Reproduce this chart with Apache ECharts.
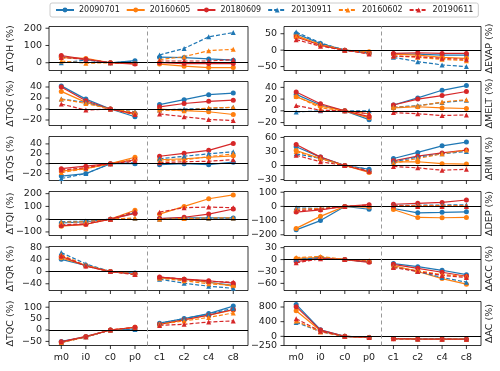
<!DOCTYPE html>
<html>
<head>
<meta charset="utf-8">
<script src="https://cdn.jsdelivr.net/npm/echarts@6/dist/echarts.min.js"></script>
<style>
html, body { margin: 0; padding: 0; background: #fff; }
#chart { width: 500px; height: 371px; }
</style>
</head>
<body>
<div id="chart"></div>
<script>
// x positions / labels
var categories = ['m0', 'i0', 'c0', 'p0', 'c1', 'c2', 'c4', 'c8'];
// run order: 20090701, 20160605, 20180609, 20130911, 20160602, 20190611
var runs = ['20090701', '20160605', '20180609', '20130911', '20160602', '20190611'];

var dTQH = [
    [35, 20, 0, 12, 32, 30, 22, 15],
    [30, 25, 0, -5, -8, -20, -28, -28],
    [42, 20, 0, -8, 0, -5, -5, -5],
    [0, 15, 0, 8, 45, 83, 150, 175],
    [10, -3, 0, -3, 18, 35, 70, 78],
    [30, 20, 0, -5, 10, 10, 10, 18]
];
var dEVAP = [
    [50, 20, 0, -8, -12, -12, -15, -15],
    [45, 15, 0, -5, -12, -15, -22, -25],
    [40, 15, 0, -10, -10, -8, -10, -10],
    [55, 22, 0, -8, -22, -35, -45, -50],
    [42, 18, 0, -8, -18, -22, -28, -32],
    [32, 12, 0, -12, -18, -20, -25, -28]
];
var dTQG = [
    [42, 18, 0, -14, 8, 17, 26, 29],
    [32, 12, 0, -10, 0, -3, -5, -10],
    [40, 15, 0, -8, 4, 10, 14, 16],
    [18, 12, 0, -5, -2, 0, 1, 3],
    [18, 10, 0, -6, -2, -3, 2, 3],
    [9, -2, 0, -10, -9, -14, -19, -21]
];
var dMELT = [
    [28, 10, 0, -15, 10, 22, 35, 43],
    [24, 8, 0, -12, 5, 7, 5, 4],
    [32, 12, 0, -10, 10, 20, 26, 33],
    [-2, 0, 0, 0, 6, 9, 14, 18],
    [25, 5, 0, -5, 6, 8, 15, 19],
    [9, 1, 0, -5, -3, -5, -8, -7]
];
var dTQS = [
    [-25, -20, 0, 0, -2, 0, -2, 3],
    [-15, -10, 0, 13, 8, 10, 13, 16],
    [-10, -5, 0, 8, 15, 21, 27, 41],
    [-30, -20, 0, 2, 10, 15, 20, 24],
    [-18, -10, 0, 10, 5, 8, 14, 20],
    [-13, -8, 0, 5, 2, 4, 5, 8]
];
var dRIM = [
    [40, 18, 0, -8, 15, 28, 42, 50],
    [32, 15, 0, -15, 8, 8, 4, 3],
    [45, 18, 0, -13, 10, 20, 27, 33],
    [25, 15, 0, -8, 8, 18, 25, 30],
    [30, 15, 0, -12, 5, 15, 25, 33],
    [22, 8, 0, -12, -2, -5, -10, -8]
];
var dTQI = [
    [-30, -20, 0, 50, 5, 10, 10, 10],
    [-55, -40, 0, 70, 40, 100, 160, 190],
    [-50, -40, 0, 45, 5, 15, 40, 80],
    [-20, -15, 0, 5, 0, 5, 5, 5],
    [-25, -20, 0, 10, 0, 5, 10, 10],
    [-45, -35, 0, 60, 55, 90, 95, 90]
];
var dDEP = [
    [-165, -100, 0, -20, -15, -45, -42, -38],
    [-155, -70, 0, -5, -22, -78, -80, -78],
    [-40, -25, 0, 12, 15, 22, 28, 45],
    [-10, -15, 0, 5, 8, 8, 10, 12],
    [-20, -15, 0, 5, 5, 5, 5, 5],
    [-30, -20, 0, 10, 5, 0, 0, 0]
];
var dTQR = [
    [40, 20, 0, -5, -20, -25, -35, -45],
    [45, 20, 0, -8, -20, -25, -35, -48],
    [50, 18, 0, -8, -18, -25, -30, -38],
    [62, 25, 0, -8, -25, -38, -48, -55],
    [55, 20, 0, -8, -22, -30, -40, -45],
    [52, 18, 0, -10, -18, -25, -32, -35]
];
var dACC = [
    [0, 5, 0, -5, -10, -18, -27, -38],
    [3, 5, 0, -5, -15, -30, -48, -62],
    [-5, 3, 0, -7, -12, -22, -32, -42],
    [0, 5, 0, -5, -18, -30, -45, -57],
    [5, 8, 0, -3, -18, -28, -38, -42],
    [-8, 2, 0, -5, -20, -30, -40, -45]
];
var dTQC = [
    [-50, -30, 0, 5, 30, 50, 72, 105],
    [-55, -30, 0, 12, 25, 45, 65, 88],
    [-52, -28, 0, 12, 25, 45, 65, 90],
    [-55, -30, 0, 2, 30, 50, 70, 95],
    [-55, -30, 0, 10, 25, 40, 55, 75],
    [-52, -30, 0, 12, 20, 25, 35, 40]
];
var dAC = [
    [870, 180, 0, -30, -60, -70, -75, -80],
    [700, 150, 0, -30, -65, -75, -80, -80],
    [810, 170, 0, -30, -60, -70, -75, -78],
    [380, 130, 0, -20, -60, -70, -72, -75],
    [420, 120, 0, -25, -62, -72, -75, -78],
    [480, 140, 0, -30, -65, -75, -78, -80]
];

// y tick labels per panel
var ticksTQH = [0, 100, 200];
var ticksEVAP = [-50, 0, 50];
var ticksTQG = [-20, 0, 20, 40];
var ticksMELT = [-20, 0, 20, 40];
var ticksTQS = [-20, 0, 20, 40];
var ticksRIM = [-30, 0, 30, 60];
var ticksTQI = [-100, 0, 100, 200];
var ticksDEP = [-200, -100, 0, 100];
var ticksTQR = [-40, 0, 40, 80];
var ticksACC = [-60, -30, 0, 30];
var ticksTQC = [-50, 0, 50, 100];
var ticksAC = [-250, 0, 400, 800];

// panel layout: name, data, ticks, y range, row, col
var panels = [
    ['ΔTQH (%)', dTQH, ticksTQH, -45, 210, 0, 0],
    ['ΔEVAP (%)', dEVAP, ticksEVAP, -62, 72, 0, 1],
    ['ΔTQG (%)', dTQG, ticksTQG, -30, 50, 1, 0],
    ['ΔMELT (%)', dMELT, ticksMELT, -25, 50, 1, 1],
    ['ΔTQS (%)', dTQS, ticksTQS, -34, 55, 2, 0],
    ['ΔRIM (%)', dRIM, ticksRIM, -32, 62, 2, 1],
    ['ΔTQI (%)', dTQI, ticksTQI, -128, 217, 3, 0],
    ['ΔDEP (%)', dDEP, ticksDEP, -205, 105, 3, 1],
    ['ΔTQR (%)', dTQR, ticksTQR, -62, 82, 4, 0],
    ['ΔACC (%)', dACC, ticksACC, -78, 33, 4, 1],
    ['ΔTQC (%)', dTQC, ticksTQC, -68, 125, 5, 0],
    ['ΔAC (%)', dAC, ticksAC, -250, 950, 5, 1]
];

var colors = ['#1f77b4', '#ff7f0e', '#d62728', '#1f77b4', '#ff7f0e', '#d62728'];
var font = 'DejaVu Sans';
var X_MIN = -0.5, X_MAX = 7.6, TICK_LEN = 3.5, TICK_PAD = 7;
var xIdx = categories.map(function(c, i) { return i; });

function toPoints(vals) {
    var out = [];
    vals.forEach(function(v, i) {
        if (i === 4) out.push([3.5, null]);  // break between p0 and c1
        out.push([i, v]);
    });
    return out;
}

// outward y ticks + labels, placed through the axes' own scales
function yTickSeries(k, yAxisIdx, ticks) {
    return {
        type: 'custom', xAxisIndex: k, yAxisIndex: yAxisIdx, silent: true, clip: false, z: 1,
        data: ticks.map(function(t) { return [X_MIN, t]; }),
        renderItem: function(params, api) {
            var v = api.value(1);
            var p = api.coord([api.value(0), v]);
            return {
                type: 'group',
                children: [
                    { type: 'line', shape: { x1: p[0] - TICK_LEN, y1: p[1], x2: p[0], y2: p[1] },
                      style: { stroke: '#000', lineWidth: 0.8 } },
                    { type: 'text', x: p[0] - TICK_PAD, y: p[1],
                      style: { text: String(v).replace('-', '\u2212'), align: 'right', verticalAlign: 'middle',
                               font: '9.5px "DejaVu Sans"', fill: '#222' } }
                ]
            };
        }
    };
}

function xTickSeries(k, yAxisIdx, yMin) {
    return {
        type: 'custom', xAxisIndex: k, yAxisIndex: yAxisIdx, silent: true, clip: false, z: 1,
        data: xIdx.map(function(i) { return [i, yMin]; }),
        renderItem: function(params, api) {
            var p = api.coord([api.value(0), api.value(1)]);
            return { type: 'line', shape: { x1: p[0], y1: p[1], x2: p[0], y2: p[1] + TICK_LEN },
                     style: { stroke: '#000', lineWidth: 0.8 } };
        }
    };
}

var grids = [], xAxes = [], yAxes = [], series = [];

panels.forEach(function(p, k) {
    var name = p[0], data = p[1], ticks = p[2], yMin = p[3], row = p[5], col = p[6];
    var bottomRow = row === 5;
    grids.push({
        left: col === 0 ? 49 : 284,
        width: col === 0 ? 199 : 197,
        top: 26.5 + 55 * row,
        height: 44,
        show: true,
        borderColor: '#000',
        borderWidth: 0.8
    });
    xAxes.push({
        gridIndex: k, type: 'value', min: X_MIN, max: X_MAX,
        splitLine: { show: false },
        axisLine: { show: false },
        axisTick: { show: false },
        axisLabel: {
            show: bottomRow, customValues: xIdx, margin: 7,
            showMinLabel: true, showMaxLabel: true, hideOverlap: false,
            fontFamily: font, fontSize: 9.5, color: '#222',
            formatter: function(v) { return categories[Math.round(v)]; }
        }
    });
    var yMain = yAxes.length;
    yAxes.push({
        gridIndex: k, type: 'value', min: yMin, max: p[4],
        position: 'left',
        splitLine: { show: false },
        axisLine: { show: false },
        axisTick: { show: false },
        axisLabel: { show: false },
        name: col === 0 ? name : '',
        nameLocation: 'middle', nameRotate: 90, nameGap: 33,
        nameTextStyle: { fontFamily: font, fontSize: 9.5, color: '#222' }
    });
    if (col === 1) {
        yAxes.push({
            gridIndex: k, type: 'value', min: 0, max: 1, position: 'right',
            splitLine: { show: false }, axisLine: { show: false },
            axisTick: { show: false }, axisLabel: { show: false },
            name: name, nameLocation: 'middle', nameRotate: 90, nameGap: 4,
            nameTextStyle: { fontFamily: font, fontSize: 9.5, color: '#222', verticalAlign: 'top' }
        });
    }
    series.push(yTickSeries(k, yMain, ticks));
    series.push(xTickSeries(k, yMain, yMin));

    data.forEach(function(vals, s) {
        var dashed = s >= 3;
        var ser = {
            type: 'line', name: runs[s], xAxisIndex: k, yAxisIndex: yMain,
            data: toPoints(vals),
            connectNulls: false,
            symbol: dashed ? 'triangle' : 'circle',
            symbolSize: 5,
            color: colors[s],
            lineStyle: { width: 1.2, type: dashed ? [4, 2] : 'solid', color: colors[s] },
            itemStyle: { color: colors[s] },
            z: 3
        };
        if (s === 0) {
            ser.markLine = {
                silent: true, symbol: 'none', label: { show: false },
                data: [
                    { yAxis: 0, lineStyle: { color: '#000', type: 'solid', width: 1 } },
                    { xAxis: 3.5, lineStyle: { color: '#999', type: [4, 3], width: 1 } }
                ]
            };
        }
        series.push(ser);
    });
});

var chart = echarts.init(document.getElementById('chart'), null, { renderer: 'canvas' });
chart.setOption({
    animation: false,
    backgroundColor: '#fff',
    legend: {
        data: runs,
        left: 50, top: 3,
        padding: [3, 5],
        itemGap: 6, itemWidth: 18, itemHeight: 6,
        borderColor: '#ccc', borderWidth: 1, borderRadius: 2,
        textStyle: { fontFamily: font, fontSize: 8, color: '#222' }
    },
    grid: grids,
    xAxis: xAxes,
    yAxis: yAxes,
    series: series
});
</script>
</body>
</html>
